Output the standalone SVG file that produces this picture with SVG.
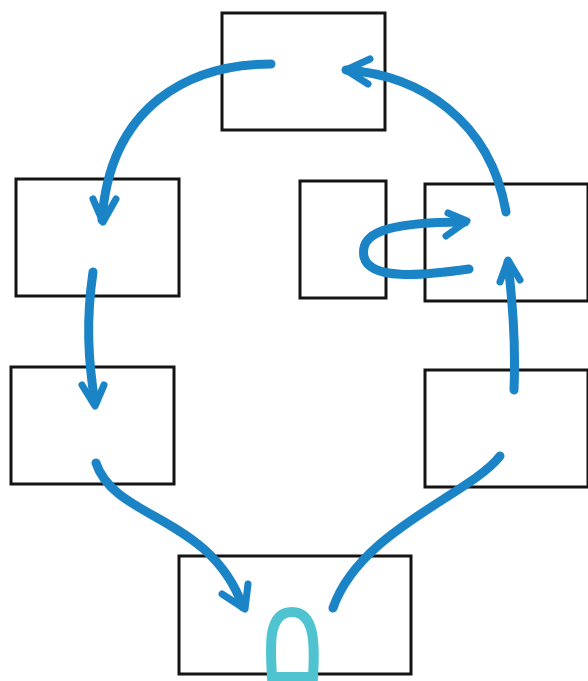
<svg xmlns="http://www.w3.org/2000/svg" width="588" height="681" viewBox="0 0 588 681">
<style>
.box{fill:none;stroke:#141414;stroke-width:3}
.c{fill:none;stroke:#1a84c6;stroke-width:9;stroke-linecap:round;stroke-linejoin:round}
.h{fill:none;stroke:#1a84c6;stroke-width:7;stroke-linecap:round;stroke-linejoin:round}
</style>
<rect width="588" height="681" fill="#fff"/>
<g id="top"><rect class="box" x="222" y="13" width="163" height="117"/></g>
<g id="left1"><rect class="box" x="16" y="179" width="163" height="117"/></g>
<g id="mid"><rect class="box" x="300" y="181" width="86" height="117"/></g>
<g id="right1"><rect class="box" x="425" y="184" width="163" height="117"/></g>
<g id="left2"><rect class="box" x="11" y="367" width="163" height="117"/></g>
<g id="right2"><rect class="box" x="425" y="370" width="163" height="117"/></g>
<g id="bottom"><rect class="box" x="179" y="556" width="232" height="118"/></g>
<g id="connectors">
<path class="c" d="M271,64 C190,64 110,105 102,220"/>
<path class="h" d="M93,199 L103,222 L116,199"/>
<path class="c" d="M93,272 C86,320 88,360 95,403"/>
<path class="h" d="M82,385 L95,406 L104,385"/>
<path class="c" d="M96,463 C115,520 210,515 243,607"/>
<path class="h" d="M222,594 L245,609 L248,584"/>
<path class="c" d="M333,608 C360,530 470,495 500,456"/>
<path class="c" d="M514,390 C516,340 512,300 508,262"/>
<path class="h" d="M500,282 L508,260 L520,280"/>
<path class="c" d="M506,212 C490,120 420,75 346,70"/>
<path class="h" d="M370,59 L346,70 L368,84"/>
<path class="c" d="M469,269 C420,276 370,280 364,257 C360,235 380,222 465,222"/>
<path class="h" d="M448,213 L467,221 L446,236"/>
<path d="M272,677 C270,645 268,612 292,612 C315,612 315,645 313,677 Z" fill="none" stroke="#4fc3cf" stroke-width="10"/>
</g>
</svg>
